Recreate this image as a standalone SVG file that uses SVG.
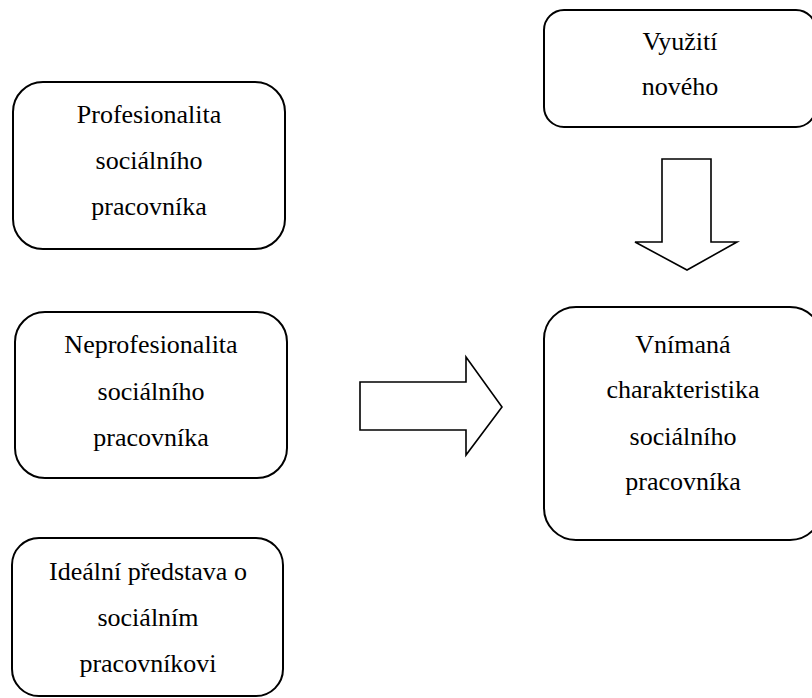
<svg xmlns="http://www.w3.org/2000/svg" width="812" height="698" viewBox="0 0 812 698">
<style>
.box{fill:#fff;stroke:#000;stroke-width:2}
.arr{fill:#fff;stroke:#000;stroke-width:1.6;stroke-linejoin:miter}
text{font-family:"Liberation Serif","Times New Roman",serif;font-size:26px;fill:#000;text-anchor:middle}
</style>
<rect width="812" height="698" fill="#fff"/>
<g id="connectors">
<polygon class="arr" points="662,159 711,159 711,242 737,242 687,270 635,242 662,242"/>
<polygon class="arr" points="360,382 466,382 466,357 502,407 466,455 466,430 360,430"/>
</g>
<g id="n-profesionalita">
<rect class="box" x="13" y="82" width="272" height="167" rx="30" ry="30"/>
<text x="149" y="123">Profesionalita</text>
<text x="149" y="169">sociálního</text>
<text x="149" y="215">pracovníka</text>
</g>
<g id="n-neprofesionalita">
<rect class="box" x="15" y="312" width="272" height="166" rx="30" ry="30"/>
<text x="151" y="353">Neprofesionalita</text>
<text x="151" y="400">sociálního</text>
<text x="151" y="446">pracovníka</text>
</g>
<g id="n-idealni">
<rect class="box" x="12" y="538" width="271" height="158" rx="27" ry="27"/>
<text x="148" y="580">Ideální představa o</text>
<text x="148" y="626">sociálním</text>
<text x="148" y="672">pracovníkovi</text>
</g>
<g id="n-vyuziti">
<rect class="box" x="544" y="10" width="272" height="117" rx="20" ry="20"/>
<text x="680" y="50">Využití</text>
<text x="680" y="95">nového</text>
</g>
<g id="n-vnimana">
<rect class="box" x="544" y="307" width="278" height="233" rx="32" ry="32"/>
<text x="683" y="353">Vnímaná</text>
<text x="683" y="398">charakteristika</text>
<text x="683" y="445">sociálního</text>
<text x="683" y="490">pracovníka</text>
</g>
</svg>
